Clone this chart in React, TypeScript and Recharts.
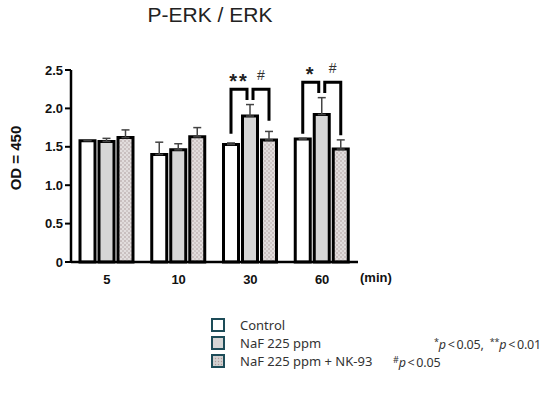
import { BarChart, Bar, XAxis, YAxis, ErrorBar, LabelList } from "recharts";

const times = ["5", "10", "30", "60"];
const control = [1.58, 1.4, 1.53, 1.6];
const controlErr = [0.01, 0.16, 0.02, 0.01];
const naf = [1.57, 1.46, 1.9, 1.92];
const nafErr = [0.04, 0.08, 0.15, 0.22];
const nk = [1.62, 1.63, 1.59, 1.47];
const nkErr = [0.1, 0.12, 0.11, 0.12];
const yTicks = [0, 0.5, 1.0, 1.5, 2.0, 2.5];

// significance brackets, in OD units (null = no bracket)
const bracketTop = [null, null, 2.25, 2.34];
const ctrlLegEnd = [null, null, 1.67, 1.67];
const nafLegEnd = [null, null, 2.11, 2.2];
const nkLegEnd = [null, null, 1.84, 1.65];
const starMarks = ["", "", "**", "*"];
const hashMarks = ["", "", "#", "#"];

const BAR_GAP = 4;

const data = times.map((t, i) => ({
  time: t,
  control: control[i],
  controlErr: [0, controlErr[i]],
  naf: naf[i],
  nafErr: [0, nafErr[i]],
  nk: nk[i],
  nkErr: [0, nkErr[i]],
}));

function Brackets(props: any) {
  const vb = props.viewBox || {};
  const x = props.x ?? vb.x;
  const y = props.y ?? vb.y;
  const width = props.width ?? vb.width;
  const height = props.height ?? vb.height;
  const i = props.index;
  const top = bracketTop[i];
  if (top == null || x == null) return null;
  const value = naf[i];
  const ppu = height / value;
  const bottom = y + height;
  const yOf = (v: number) => bottom - v * ppu;
  const cx = x + width / 2;
  const left = cx - (width + BAR_GAP);
  const right = cx + (width + BAR_GAP);
  const yt = yOf(top);
  const lw = 3;
  return (
    <g>
      <polyline
        points={`${left},${yOf(ctrlLegEnd[i]!)} ${left},${yt} ${cx - 3},${yt} ${cx - 3},${yOf(nafLegEnd[i]!)}`}
        fill="none"
        stroke="#000"
        strokeWidth={lw}
      />
      <polyline
        points={`${cx + 3},${yOf(nafLegEnd[i]!)} ${cx + 3},${yt} ${right},${yt} ${right},${yOf(nkLegEnd[i]!)}`}
        fill="none"
        stroke="#000"
        strokeWidth={lw}
      />
      <text
        x={(left + cx - 3) / 2}
        y={yt - 1}
        textAnchor="middle"
        fontSize={20}
        fontWeight="bold"
        letterSpacing={2}
        fontFamily="'Liberation Sans', Arial, sans-serif"
        fill="#222"
      >
        {starMarks[i]}
      </text>
      <text
        x={(cx + 3 + right) / 2}
        y={yt - 9}
        textAnchor="middle"
        fontSize={14}
        fontFamily="'Liberation Sans', Arial, sans-serif"
        fill="#333"
      >
        {hashMarks[i]}
      </text>
    </g>
  );
}

const legendItems = [
  { label: "Control", fill: "#ffffff" },
  { label: "NaF 225 ppm", fill: "#d6d6d6" },
  { label: "NaF 225 ppm + NK-93", fill: "dots" },
];

const tickFont = {
  fill: "#111",
  fontSize: 13,
  fontWeight: "bold",
  fontFamily: "'Liberation Sans', Arial, sans-serif",
};

const noteStyle = {
  position: "absolute" as const,
  fontFamily: "'Noto Sans', sans-serif",
  fontSize: 12.5,
  color: "#333",
  whiteSpace: "nowrap" as const,
  lineHeight: "16px",
  letterSpacing: -0.2,
};

export default function App() {
  return (
    <div
      style={{
        position: "absolute",
        left: 0,
        top: 0,
        width: 550,
        height: 393,
        background: "#fff",
        fontFamily: "'Liberation Sans', Arial, sans-serif",
      }}
    >
      <div
        style={{
          position: "absolute",
          left: 110,
          width: 200,
          top: 3,
          textAlign: "center",
          fontSize: 21,
          color: "#222",
        }}
      >
        P-ERK / ERK
      </div>

      <BarChart
        width={550}
        height={393}
        data={data}
        margin={{ top: 70, right: 192, bottom: 101, left: 0 }}
        barSize={15}
        barGap={BAR_GAP}
        style={{ position: "absolute", left: 0, top: 0 }}
      >
        <defs>
          <pattern id="dots" width="4" height="4" patternUnits="userSpaceOnUse">
            <rect width="4" height="4" fill="#e2dddd" />
            <circle cx="1" cy="1" r="0.8" fill="#a99a9a" />
            <circle cx="3" cy="3" r="0.8" fill="#b8abab" />
          </pattern>
        </defs>
        <XAxis
          dataKey="time"
          axisLine={{ stroke: "#000", strokeWidth: 2.5 }}
          tickLine={false}
          tickSize={8}
          tickMargin={5}
          height={30}
          tick={tickFont}
        />
        <YAxis
          width={71}
          domain={[0, 2.5]}
          ticks={yTicks}
          tickFormatter={(v: number) => (v === 0 ? "0" : v.toFixed(1))}
          axisLine={{ stroke: "#000", strokeWidth: 2.5 }}
          tickLine={{ stroke: "#000", strokeWidth: 2 }}
          tickSize={6}
          tick={tickFont}
          label={{
            content: () => (
              <text
                x={15}
                y={158}
                transform="rotate(-90 15 158)"
                textAnchor="middle"
                dominantBaseline="central"
                fontSize={15}
                fontWeight="bold"
                fontFamily="'Liberation Sans', Arial, sans-serif"
                fill="#111"
              >
                OD = 450
              </text>
            ),
          }}
        />
        <Bar dataKey="control" fill="#ffffff" stroke="#000" strokeWidth={3} isAnimationActive={false}>
          <ErrorBar dataKey="controlErr" direction="y" width={4} stroke="#444" strokeWidth={1.5} />
        </Bar>
        <Bar dataKey="naf" fill="#d6d6d6" stroke="#000" strokeWidth={3} isAnimationActive={false}>
          <ErrorBar dataKey="nafErr" direction="y" width={4} stroke="#444" strokeWidth={1.5} />
          <LabelList dataKey="naf" content={Brackets} />
        </Bar>
        <Bar dataKey="nk" fill="url(#dots)" stroke="#000" strokeWidth={3} isAnimationActive={false}>
          <ErrorBar dataKey="nkErr" direction="y" width={4} stroke="#444" strokeWidth={1.5} />
        </Bar>
      </BarChart>

      <div
        style={{
          position: "absolute",
          left: 360,
          top: 270,
          fontSize: 13,
          fontWeight: "bold",
          color: "#111",
        }}
      >
        (min)
      </div>

      {legendItems.map((it, i) => (
        <div
          key={it.label}
          style={{
            position: "absolute",
            left: 211,
            top: 318 + i * 18,
            height: 14,
            display: "flex",
            alignItems: "center",
            fontFamily: "'Noto Sans', sans-serif",
            fontSize: 13,
            color: "#333",
          }}
        >
          <svg width={14} height={14} style={{ display: "block" }}>
            {it.fill === "dots" ? (
              <>
                <defs>
                  <pattern id="ldots" width="3" height="3" patternUnits="userSpaceOnUse">
                    <rect width="3" height="3" fill="#d2d0d0" />
                    <circle cx="1.5" cy="1.5" r="0.7" fill="#b09a9a" />
                  </pattern>
                </defs>
                <rect x={1} y={1} width={12} height={12} fill="url(#ldots)" stroke="#1d4c58" strokeWidth={2} />
              </>
            ) : (
              <rect x={1} y={1} width={12} height={12} fill={it.fill} stroke="#1d4c58" strokeWidth={2} />
            )}
          </svg>
          <span style={{ marginLeft: 15 }}>{it.label}</span>
        </div>
      ))}

      <div style={{ ...noteStyle, left: 434, top: 334 }}>
        <span style={{ fontSize: 9, verticalAlign: "4px" }}>*</span>
        <i>p</i>{"\u2009<\u20090.05,\u2002"}
        <span style={{ fontSize: 9, verticalAlign: "4px" }}>**</span>
        <i>p</i>{"\u2009<\u20090.01"}
      </div>
      <div style={{ ...noteStyle, left: 393, top: 352 }}>
        <span style={{ fontSize: 9, verticalAlign: "4px" }}>#</span>
        <i>p</i>{"\u2009<\u20090.05"}
      </div>
    </div>
  );
}
